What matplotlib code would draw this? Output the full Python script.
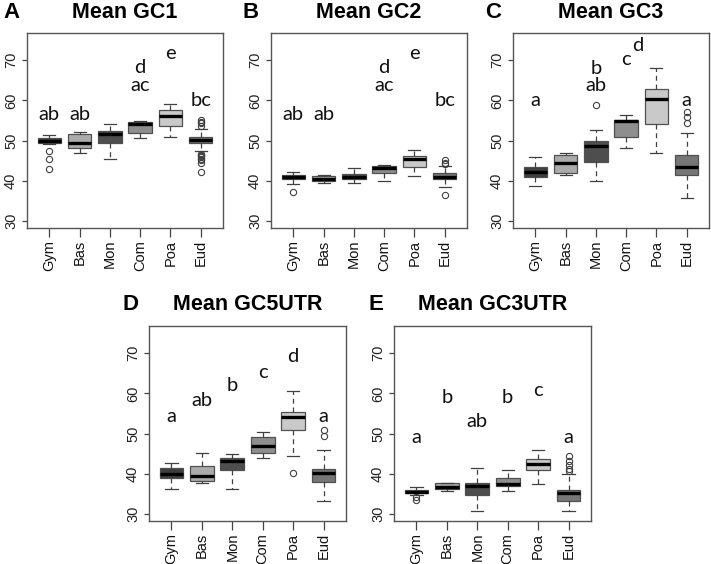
import numpy as np
import matplotlib.pyplot as plt

groups = ['Gym', 'Bas', 'Mon', 'Com', 'Poa', 'Eud']
box_colors = ['#3e3e3e', '#ababab', '#4e4e4e', '#8e8e8e', '#c9c9c9', '#767676']

# per panel: lower whisker, q1, median, q3, upper whisker, outliers
gc1_lo = [49.2, 46.9, 45.5, 50.6, 51.0, 47.3]
gc1_q1 = [49.3, 48.2, 49.3, 51.8, 53.6, 49.4]
gc1_med = [50.0, 49.5, 51.7, 54.0, 56.1, 50.2]
gc1_q3 = [50.7, 51.6, 52.3, 54.5, 57.7, 50.9]
gc1_hi = [51.5, 52.1, 54.0, 54.8, 59.1, 52.8]
gc1_out = [[47.4, 45.4, 43.0], [], [], [], [],
           [55.1, 54.6, 54.3, 53.5, 46.7, 46.4, 46.1, 45.8, 45.5, 45.2, 44.4, 42.1]]
gc1_txt = ['ab', 'ab', 'ac', 'd', 'e', 'bc']
gc1_tx = [1, 2, 4, 4, 5, 6]
gc1_ty = [56.4, 56.4, 63.8, 68.2, 71.7, 60.1]

gc2_lo = [39.1, 39.4, 39.4, 39.9, 41.1, 38.5]
gc2_q1 = [40.5, 39.8, 40.3, 41.8, 43.4, 40.5]
gc2_med = [41.0, 40.5, 40.9, 43.2, 45.3, 41.0]
gc2_q3 = [41.5, 41.2, 41.7, 43.6, 46.2, 41.8]
gc2_hi = [42.2, 41.5, 43.2, 43.9, 47.6, 43.6]
gc2_out = [[37.1], [], [], [], [], [45.2, 44.5, 44.1, 36.5]]
gc2_txt = ['ab', 'ab', 'ac', 'd', 'e', 'bc']
gc2_tx = [1, 2, 4, 4, 5, 6]
gc2_ty = [56.4, 56.4, 63.8, 68.2, 71.7, 60.1]

gc3_lo = [38.6, 41.3, 40.0, 48.2, 46.9, 35.8]
gc3_q1 = [40.9, 42.0, 44.6, 50.8, 54.0, 41.3]
gc3_med = [42.1, 44.5, 48.7, 54.8, 60.3, 43.4]
gc3_q3 = [43.4, 46.5, 49.8, 55.1, 62.9, 46.3]
gc3_hi = [45.8, 46.9, 52.5, 56.4, 68.2, 51.9]
gc3_out = [[], [], [58.8], [], [], [57.2, 55.8, 54.3]]
gc3_txt = ['a', 'ab', 'b', 'c', 'd', 'a']
gc3_tx = [1, 3, 3, 4, 4.38, 6]
gc3_ty = [60.0, 63.8, 67.9, 70.3, 73.8, 60.0]

utr5_lo = [36.3, 37.6, 36.3, 44.0, 44.5, 33.1]
utr5_q1 = [38.8, 38.1, 40.9, 45.1, 51.0, 37.8]
utr5_med = [40.0, 39.5, 43.1, 47.0, 54.0, 40.2]
utr5_q3 = [41.5, 41.8, 43.9, 49.2, 55.4, 41.1]
utr5_hi = [42.6, 45.2, 44.8, 50.5, 60.5, 46.0]
utr5_out = [[], [], [], [], [40.1], [50.9, 49.5]]
utr5_txt = ['a', 'ab', 'b', 'c', 'd', 'a']
utr5_tx = [1, 2, 3, 4, 5, 6]
utr5_ty = [54.2, 58.2, 62.0, 65.3, 69.3, 54.2]

utr3_lo = [34.8, 35.6, 30.8, 35.6, 37.5, 30.6]
utr3_q1 = [35.1, 36.2, 34.6, 36.9, 40.8, 33.3]
utr3_med = [35.5, 36.7, 36.9, 37.3, 42.3, 35.1]
utr3_q3 = [35.9, 37.7, 37.7, 38.8, 43.6, 36.0]
utr3_hi = [36.6, 37.7, 41.3, 40.9, 45.8, 40.0]
utr3_out = [[34.1, 33.5], [], [], [], [], [44.3, 43.2, 42.2, 41.1, 40.7]]
utr3_txt = ['a', 'b', 'ab', 'b', 'c', 'a']
utr3_tx = [1, 2, 3, 4, 5, 6]
utr3_ty = [48.9, 59.0, 53.1, 59.0, 60.6, 48.9]

panels = [
    ('A', 'Mean GC1', gc1_lo, gc1_q1, gc1_med, gc1_q3, gc1_hi, gc1_out, gc1_txt, gc1_tx, gc1_ty),
    ('B', 'Mean GC2', gc2_lo, gc2_q1, gc2_med, gc2_q3, gc2_hi, gc2_out, gc2_txt, gc2_tx, gc2_ty),
    ('C', 'Mean GC3', gc3_lo, gc3_q1, gc3_med, gc3_q3, gc3_hi, gc3_out, gc3_txt, gc3_tx, gc3_ty),
    ('D', 'Mean GC5UTR', utr5_lo, utr5_q1, utr5_med, utr5_q3, utr5_hi, utr5_out, utr5_txt, utr5_tx, utr5_ty),
    ('E', 'Mean GC3UTR', utr3_lo, utr3_q1, utr3_med, utr3_q3, utr3_hi, utr3_out, utr3_txt, utr3_tx, utr3_ty),
]

W, H = 711, 564
# axes boxes in pixels: left, top, right, bottom
boxes_px = [(27, 33, 223, 228), (271, 33, 467, 228), (513, 33, 709, 228),
            (149, 326, 346, 521), (394, 326, 591, 521)]
tag_x = [3, 242, 485, 122, 368]

plt.rcParams['font.family'] = ['Liberation Sans', 'DejaVu Sans']
fig = plt.figure(figsize=(W / 100, H / 100), dpi=100)

for (tag, title, lo, q1, med, q3, hi, out, txt, tx, ty), (l, t, r, b), tgx in zip(panels, boxes_px, tag_x):
    ax = fig.add_axes([l / W, 1 - b / H, (r - l) / W, (b - t) / H])
    stats = []
    for i in range(len(groups)):
        stats.append({'whislo': lo[i], 'q1': q1[i], 'med': med[i], 'q3': q3[i],
                      'whishi': hi[i], 'fliers': out[i], 'label': groups[i]})
    res = ax.bxp(stats, positions=np.arange(1, 7), widths=0.78, patch_artist=True,
                 capwidths=0.4,
                 boxprops=dict(edgecolor='#505050', linewidth=0.9),
                 medianprops=dict(color='black', linewidth=2.4, solid_capstyle='butt'),
                 whiskerprops=dict(color='#404040', linewidth=0.9, linestyle=(0, (4, 3))),
                 capprops=dict(color='#404040', linewidth=0.9),
                 flierprops=dict(marker='o', markersize=4.5, markerfacecolor='none',
                                 markeredgecolor='#404040', markeredgewidth=0.8))
    for patch, c in zip(res['boxes'], box_colors):
        patch.set_facecolor(c)
    ax.set_xlim(0.26, 6.74)
    ax.set_ylim(28.2, 76.8)
    ax.set_yticks([30, 40, 50, 60, 70])
    ax.set_xticks(np.arange(1, 7))
    ax.set_xticklabels(groups, rotation=90, fontsize=10.5, color='#111111')
    for lab in ax.get_yticklabels():
        lab.set_rotation(90)
        lab.set_va('center')
        lab.set_fontsize(10.5)
        lab.set_color('#222222')
    ax.tick_params(axis='x', length=6.5, width=0.9, color='#444444', pad=2)
    ax.tick_params(axis='y', length=3.5, width=0.9, color='#444444', pad=3)
    for sp in ax.spines.values():
        sp.set_color('#555555')
        sp.set_linewidth(1.0)
    for s, x, y in zip(txt, tx, ty):
        ax.text(x, y, s, ha='center', va='center', fontsize=14.5,
                family=['Lato', 'DejaVu Sans'], color='#111111')
    cx = (l + r) / 2
    fig.text(cx / W, 1 - (t - 21) / H, title, ha='center', va='center',
             fontsize=15.5, fontweight='bold')
    fig.text(tgx / W, 1 - (t - 21) / H, tag, ha='left', va='center',
             fontsize=16, fontweight='bold')

fig.savefig('out.png', dpi=100)
